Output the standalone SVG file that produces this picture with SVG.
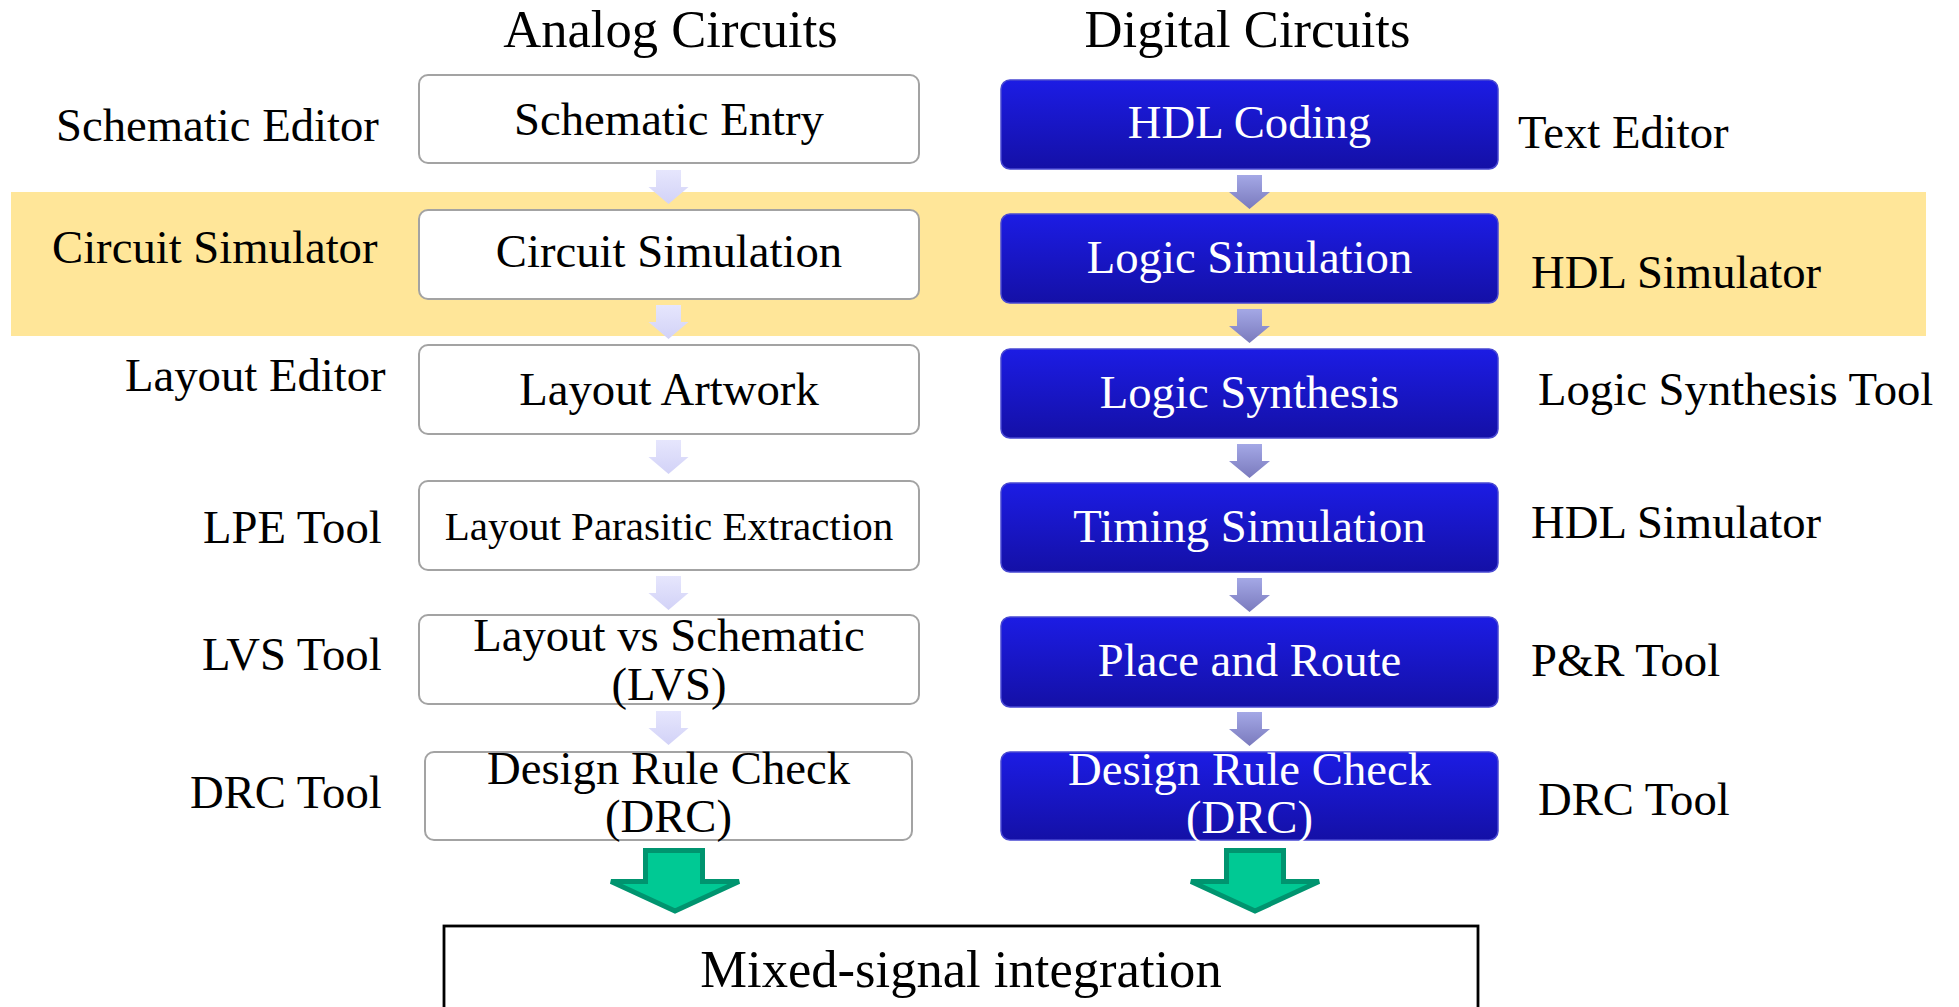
<svg xmlns="http://www.w3.org/2000/svg" width="1959" height="1007" viewBox="0 0 1959 1007">
<defs>
<linearGradient id="gBlue" x1="0" y1="0" x2="0" y2="1">
<stop offset="0" stop-color="#1c1ce4"/>
<stop offset="1" stop-color="#1410a6"/>
</linearGradient>
<linearGradient id="gLight" x1="0" y1="0" x2="0" y2="1">
<stop offset="0" stop-color="#e6e6fd"/>
<stop offset="1" stop-color="#d2d2f7"/>
</linearGradient>
<linearGradient id="gMid" x1="0" y1="0" x2="0" y2="1">
<stop offset="0" stop-color="#a4a8e6"/>
<stop offset="1" stop-color="#7a7abd"/>
</linearGradient>
<style>
text{font-family:"Liberation Serif","Times New Roman",serif;fill:#000}
.box-a{fill:#fff;stroke:#a3a3a3;stroke-width:2}
.box-d{fill:url(#gBlue);stroke:#4848d2;stroke-width:1.5}
.t{font-size:46.7px;text-anchor:middle}
.w{fill:#fff}
.lbl{font-size:46.7px}
.arr-a{fill:url(#gLight)}
.arr-d{fill:url(#gMid)}
.arr-g{fill:#00c994;stroke:#00946f;stroke-width:5;stroke-linejoin:miter}
.hdr{font-size:52.6px;text-anchor:middle}
</style>
</defs>
<rect id="band" x="11" y="192" width="1915" height="144" fill="#ffe699"/>

<g id="headers">
<text class="hdr" x="670.5" y="47">Analog Circuits</text>
<text class="hdr" x="1247.5" y="47">Digital Circuits</text>
</g>

<g id="tool-labels">
<text class="lbl" x="56" y="141">Schematic Editor</text>
<text class="lbl" x="52" y="263">Circuit Simulator</text>
<text class="lbl" x="125" y="391">Layout Editor</text>
<text class="lbl" x="203" y="543">LPE Tool</text>
<text class="lbl" x="202" y="670">LVS Tool</text>
<text class="lbl" x="190" y="808">DRC Tool</text>
<text class="lbl" x="1518" y="148">Text Editor</text>
<text class="lbl" x="1531" y="288">HDL Simulator</text>
<text class="lbl" x="1538" y="405">Logic Synthesis Tool</text>
<text class="lbl" x="1531" y="538">HDL Simulator</text>
<text class="lbl" x="1531" y="676">P&amp;R Tool</text>
<text class="lbl" x="1538" y="815">DRC Tool</text>
</g>

<g id="connectors">
<path class="arr-a" d="M656 170H681V187H688.5L668.5 204L648.5 187H656Z"/>
<path class="arr-a" d="M656 305H681V322H688.5L668.5 339L648.5 322H656Z"/>
<path class="arr-a" d="M656 440H681V457H688.5L668.5 474L648.5 457H656Z"/>
<path class="arr-a" d="M656 576H681V593H688.5L668.5 610L648.5 593H656Z"/>
<path class="arr-a" d="M656 711H681V728H688.5L668.5 745L648.5 728H656Z"/>
<path class="arr-d" d="M1237 175H1262V192H1270L1249.5 209L1229 192H1237Z"/>
<path class="arr-d" d="M1237 309H1262V326H1270L1249.5 343L1229 326H1237Z"/>
<path class="arr-d" d="M1237 444H1262V461H1270L1249.5 478L1229 461H1237Z"/>
<path class="arr-d" d="M1237 578H1262V595H1270L1249.5 612L1229 595H1237Z"/>
<path class="arr-d" d="M1237 712H1262V729H1270L1249.5 746L1229 729H1237Z"/>
<path class="arr-g" d="M645.5 850.5H702.5V881.5H739L675 911L611 881.5H645.5Z"/>
<path class="arr-g" d="M1226.5 850.5H1283.5V881.5H1319L1255 911L1191 881.5H1226.5Z"/>
</g>

<g id="a1"><rect class="box-a" x="419" y="75" width="500" height="88" rx="9"/><text class="t" x="669" y="135">Schematic Entry</text></g>
<g id="a2"><rect class="box-a" x="419" y="210" width="500" height="89" rx="9"/><text class="t" x="669" y="267">Circuit Simulation</text></g>
<g id="a3"><rect class="box-a" x="419" y="345" width="500" height="89" rx="9"/><text class="t" x="669" y="405">Layout Artwork</text></g>
<g id="a4"><rect class="box-a" x="419" y="481" width="500" height="89" rx="9"/><text class="t" x="669" y="540" style="font-size:41px">Layout Parasitic Extraction</text></g>
<g id="a5"><rect class="box-a" x="419" y="615" width="500" height="89" rx="9"/><text class="t" x="669" y="651">Layout vs Schematic</text><text class="t" x="669" y="700">(LVS)</text></g>
<g id="a6"><rect class="box-a" x="425" y="752" width="487" height="88" rx="9"/><text class="t" x="668.5" y="784">Design Rule Check</text><text class="t" x="668.5" y="832">(DRC)</text></g>

<g id="d1"><rect class="box-d" x="1001" y="80" width="497" height="89" rx="9"/><text class="t w" x="1249.5" y="138">HDL Coding</text></g>
<g id="d2"><rect class="box-d" x="1001" y="214" width="497" height="89" rx="9"/><text class="t w" x="1249.5" y="273">Logic Simulation</text></g>
<g id="d3"><rect class="box-d" x="1001" y="349" width="497" height="89" rx="9"/><text class="t w" x="1249.5" y="408">Logic Synthesis</text></g>
<g id="d4"><rect class="box-d" x="1001" y="483" width="497" height="89" rx="9"/><text class="t w" x="1249.5" y="542">Timing Simulation</text></g>
<g id="d5"><rect class="box-d" x="1001" y="617" width="497" height="90" rx="9"/><text class="t w" x="1249.5" y="676">Place and Route</text></g>
<g id="d6"><rect class="box-d" x="1001" y="752" width="497" height="88" rx="9"/><text class="t w" x="1249.5" y="785">Design Rule Check</text><text class="t w" x="1249.5" y="833">(DRC)</text></g>

<g id="mixed"><rect x="444" y="926" width="1034" height="90" fill="#fff" stroke="#000" stroke-width="2.8"/><text x="961" y="987" style="font-size:52.6px;text-anchor:middle">Mixed-signal integration</text></g>
</svg>
